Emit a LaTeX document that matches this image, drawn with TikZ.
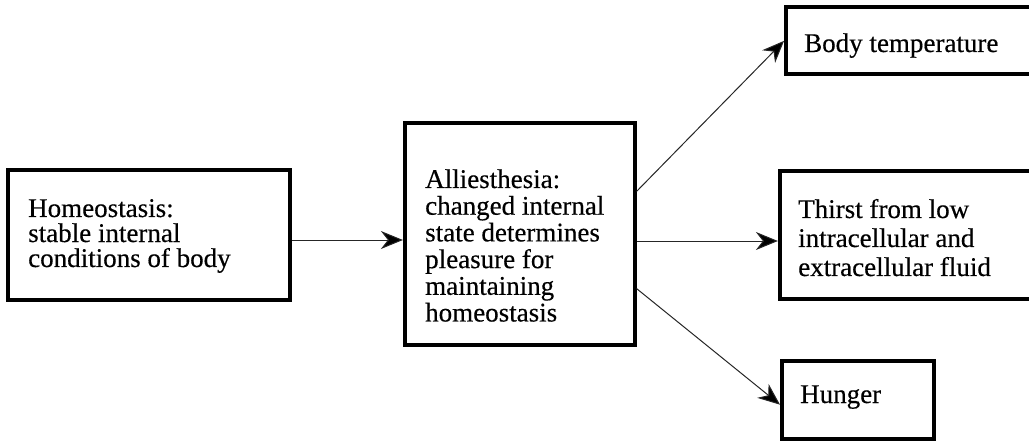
\documentclass[tikz,border=0pt]{standalone}
\usepackage{fontspec}
\setmainfont{Liberation Serif}[FakeBold=0.4]
\usetikzlibrary{arrows.meta,calc}

\tikzset{
  box/.style={draw, line width=3.2pt, rectangle, inner sep=0pt},
  txt/.style={anchor=base west, inner sep=0pt, font=\fontsize{27}{27}\selectfont},
  arr/.style={line width=1pt, draw=black!85,
              -{Stealth[length=22pt, width=18pt, inset=7pt, fill=black]}, shorten >=0.5pt},
}

\begin{document}
\begin{tikzpicture}[x=1pt, y=-1pt]
  \path[use as bounding box] (0,0) rectangle (1029,441);
  \clip (0,0) rectangle (1029,441);

  % boxes
  \node[box, minimum width=282pt, minimum height=130pt] (homeo)  at (149,235)   {};
  \node[box, minimum width=230pt, minimum height=222pt] (allies) at (520,234)   {};
  \node[box, minimum width=254pt, minimum height=67pt]  (body)   at (913,40.5)  {};
  \node[box, minimum width=260pt, minimum height=128pt] (thirst) at (910,235)   {};
  \node[box, minimum width=152pt, minimum height=78pt]  (hunger) at (858,400)   {};

  % texts
  \node[txt] (homeoT) at (28,217)
    {\parbox[t]{260pt}{\baselineskip=25pt Homeostasis:\\stable internal\\conditions of body}};
  \node[txt] (alliesT) at (425,188)
    {\parbox[t]{205pt}{\baselineskip=26.7pt Alliesthesia:\\changed internal\\state determines\\pleasure for\\maintaining\\homeostasis}};
  \node[txt] (bodyT) at (804,52) {Body temperature};
  \node[txt] (thirstT) at (798,218)
    {\parbox[t]{230pt}{\baselineskip=29pt Thirst from low\\intracellular and\\extracellular fluid}};
  \node[txt] (hungerT) at (800,403) {Hunger};

  % connectors
  \draw[arr] ($(homeo.east)+(0,5)$) -- ($(allies.west)+(0,6)$);
  \draw[arr] ($(allies.north east)+(0,70)$) -- (body.west);
  \draw[arr] ($(allies.east)+(0,7)$) -- ($(thirst.west)+(0,6)$);
  \draw[arr] ($(allies.south east)+(0,-58)$) -- ($(hunger.west)+(0,5)$);
\end{tikzpicture}
\end{document}
